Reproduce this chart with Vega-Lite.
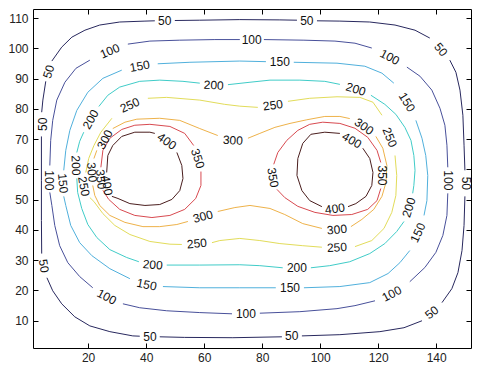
{
"$schema": "https://vega.github.io/schema/vega-lite/v6.json",
"width": 438, "height": 339,
"autosize": {"type": "none"},
"padding": {"left": 33, "top": 9, "right": 6, "bottom": 19},
"background": "white",
"config": {"view": {"stroke": "#000", "strokeWidth": 1}, "font": "Liberation Sans"},
"datasets": {
"lines": [
{"s":"50j","l":50,"x":4.0,"y":32.2},{"s":"50j","l":50,"x":3.9,"y":43.1},{"s":"50j","l":50,"x":3.9,"y":56.4},{"s":"50j","l":50,"x":3.9,"y":70.9},
{"s":"50a","l":50,"x":4.0,"y":78.9},{"s":"50a","l":50,"x":4.4,"y":82.9},{"s":"50a","l":50,"x":5.4,"y":89.1},
{"s":"50b","l":50,"x":7.5,"y":95.8},{"s":"50b","l":50,"x":10.9,"y":100.4},{"s":"50b","l":50,"x":14.4,"y":103.7},{"s":"50b","l":50,"x":18.9,"y":106.0},{"s":"50b","l":50,"x":24.0,"y":107.7},{"s":"50b","l":50,"x":30.9,"y":108.7},{"s":"50b","l":50,"x":39.6,"y":109.0},{"s":"50b","l":50,"x":43.0,"y":109.1},
{"s":"50c","l":50,"x":49.9,"y":109.2},{"s":"50c","l":50,"x":58.5,"y":109.3},{"s":"50c","l":50,"x":72.3,"y":109.5},{"s":"50c","l":50,"x":86.1,"y":109.4},{"s":"50c","l":50,"x":92.0,"y":109.3},
{"s":"50d","l":50,"x":98.9,"y":109.1},{"s":"50d","l":50,"x":106.8,"y":109.0},{"s":"50d","l":50,"x":117.1,"y":108.7},{"s":"50d","l":50,"x":125.8,"y":107.7},{"s":"50d","l":50,"x":132.7,"y":106.0},{"s":"50d","l":50,"x":137.8,"y":103.4},
{"s":"50e","l":50,"x":144.7,"y":96.1},{"s":"50e","l":50,"x":146.8,"y":92.1},{"s":"50e","l":50,"x":148.2,"y":86.2},{"s":"50e","l":50,"x":149.2,"y":77.9},{"s":"50e","l":50,"x":149.6,"y":68.0},{"s":"50e","l":50,"x":149.9,"y":59.7},
{"s":"50f","l":50,"x":149.9,"y":51.1},{"s":"50f","l":50,"x":149.6,"y":41.5},{"s":"50f","l":50,"x":148.9,"y":33.2},{"s":"50f","l":50,"x":147.5,"y":25.9},{"s":"50f","l":50,"x":145.4,"y":20.6},{"s":"50f","l":50,"x":142.0,"y":16.0},
{"s":"50g","l":50,"x":135.1,"y":10.0},{"s":"50g","l":50,"x":128.9,"y":7.7},{"s":"50g","l":50,"x":120.6,"y":6.4},{"s":"50g","l":50,"x":106.8,"y":5.4},{"s":"50g","l":50,"x":93.7,"y":5.0},
{"s":"50h","l":50,"x":86.8,"y":4.7},{"s":"50h","l":50,"x":69.9,"y":4.4},{"s":"50h","l":50,"x":53.3,"y":4.5},{"s":"50h","l":50,"x":44.7,"y":4.7},
{"s":"50i","l":50,"x":37.8,"y":4.9},{"s":"50i","l":50,"x":35.4,"y":5.0},{"s":"50i","l":50,"x":27.5,"y":6.4},{"s":"50i","l":50,"x":20.6,"y":8.3},{"s":"50i","l":50,"x":15.4,"y":11.3},{"s":"50i","l":50,"x":10.9,"y":15.6},{"s":"50i","l":50,"x":7.8,"y":19.9},{"s":"50i","l":50,"x":5.8,"y":24.2},
{"s":"100a","l":100,"x":6.8,"y":61.3},{"s":"100a","l":100,"x":7.1,"y":69.6},{"s":"100a","l":100,"x":7.8,"y":76.2},{"s":"100a","l":100,"x":9.2,"y":82.9},{"s":"100a","l":100,"x":12.0,"y":88.8},{"s":"100a","l":100,"x":15.8,"y":93.4},{"s":"100a","l":100,"x":20.6,"y":96.1},
{"s":"100b","l":100,"x":33.7,"y":101.4},{"s":"100b","l":100,"x":41.3,"y":102.4},{"s":"100b","l":100,"x":51.6,"y":102.7},{"s":"100b","l":100,"x":63.7,"y":102.9},{"s":"100b","l":100,"x":72.3,"y":102.9},
{"s":"100c","l":100,"x":80.6,"y":102.9},{"s":"100c","l":100,"x":94.4,"y":102.7},{"s":"100c","l":100,"x":105.1,"y":102.4},{"s":"100c","l":100,"x":112.0,"y":101.7},{"s":"100c","l":100,"x":117.8,"y":100.1},
{"s":"100d","l":100,"x":129.9,"y":93.8},{"s":"100d","l":100,"x":134.4,"y":90.8},{"s":"100d","l":100,"x":138.5,"y":86.2},{"s":"100d","l":100,"x":141.3,"y":80.2},{"s":"100d","l":100,"x":143.0,"y":74.6},{"s":"100d","l":100,"x":143.7,"y":68.0},{"s":"100d","l":100,"x":144.0,"y":60.7},
{"s":"100e","l":100,"x":144.0,"y":52.1},{"s":"100e","l":100,"x":143.7,"y":44.8},{"s":"100e","l":100,"x":142.3,"y":38.2},{"s":"100e","l":100,"x":139.9,"y":32.6},{"s":"100e","l":100,"x":136.1,"y":27.6},{"s":"100e","l":100,"x":130.9,"y":22.9},
{"s":"100f","l":100,"x":118.9,"y":16.6},{"s":"100f","l":100,"x":112.0,"y":15.0},{"s":"100f","l":100,"x":105.8,"y":14.0},{"s":"100f","l":100,"x":93.0,"y":13.0},{"s":"100f","l":100,"x":79.2,"y":12.5},
{"s":"100g","l":100,"x":69.6,"y":12.3},{"s":"100g","l":100,"x":58.5,"y":12.7},{"s":"100g","l":100,"x":47.1,"y":13.3},{"s":"100g","l":100,"x":37.8,"y":14.3},{"s":"100g","l":100,"x":32.0,"y":15.6},
{"s":"100h","l":100,"x":21.6,"y":20.9},{"s":"100h","l":100,"x":17.1,"y":24.6},{"s":"100h","l":100,"x":13.0,"y":29.2},{"s":"100h","l":100,"x":10.2,"y":34.8},{"s":"100h","l":100,"x":8.5,"y":41.5},{"s":"100h","l":100,"x":7.5,"y":48.1},{"s":"100h","l":100,"x":6.8,"y":52.4},
{"s":"150a","l":150,"x":11.6,"y":59.7},{"s":"150a","l":150,"x":12.3,"y":66.3},{"s":"150a","l":150,"x":13.7,"y":72.9},{"s":"150a","l":150,"x":16.1,"y":79.5},{"s":"150a","l":150,"x":19.9,"y":85.5},{"s":"150a","l":150,"x":25.1,"y":90.1},{"s":"150a","l":150,"x":31.6,"y":92.8},
{"s":"150b","l":150,"x":44.0,"y":94.9},{"s":"150b","l":150,"x":55.1,"y":95.4},{"s":"150b","l":150,"x":72.3,"y":95.8},{"s":"150b","l":150,"x":81.3,"y":95.6},
{"s":"150c","l":150,"x":90.9,"y":95.4},{"s":"150c","l":150,"x":105.8,"y":95.1},{"s":"150c","l":150,"x":115.4,"y":94.1},{"s":"150c","l":150,"x":121.3,"y":91.8},{"s":"150c","l":150,"x":125.4,"y":88.5},
{"s":"150d","l":150,"x":133.0,"y":76.2},{"s":"150d","l":150,"x":135.1,"y":70.3},{"s":"150d","l":150,"x":136.4,"y":64.6},{"s":"150d","l":150,"x":137.1,"y":58.0},{"s":"150d","l":150,"x":136.8,"y":49.7},{"s":"150d","l":150,"x":135.8,"y":44.8},
{"s":"150e","l":150,"x":130.9,"y":33.2},{"s":"150e","l":150,"x":127.5,"y":29.2},{"s":"150e","l":150,"x":123.4,"y":25.6},{"s":"150e","l":150,"x":117.1,"y":22.6},{"s":"150e","l":150,"x":106.8,"y":21.3},{"s":"150e","l":150,"x":94.4,"y":20.9},
{"s":"150f","l":150,"x":84.7,"y":20.9},{"s":"150f","l":150,"x":72.3,"y":20.9},{"s":"150f","l":150,"x":58.5,"y":20.9},{"s":"150f","l":150,"x":45.8,"y":21.3},
{"s":"150g","l":150,"x":34.4,"y":23.9},{"s":"150g","l":150,"x":27.5,"y":27.2},{"s":"150g","l":150,"x":21.3,"y":31.5},{"s":"150g","l":150,"x":17.1,"y":35.8},{"s":"150g","l":150,"x":14.0,"y":41.5},{"s":"150g","l":150,"x":12.3,"y":48.1},{"s":"150g","l":150,"x":11.6,"y":51.1},
{"s":"200a","l":200,"x":16.1,"y":65.6},{"s":"200a","l":200,"x":17.1,"y":69.3},{"s":"200a","l":200,"x":18.5,"y":72.3},
{"s":"200b","l":200,"x":23.7,"y":80.8},{"s":"200b","l":200,"x":26.8,"y":84.5},{"s":"200b","l":200,"x":30.9,"y":87.2},{"s":"200b","l":200,"x":37.8,"y":89.1},{"s":"200b","l":200,"x":44.7,"y":89.5},{"s":"200b","l":200,"x":52.7,"y":89.1},{"s":"200b","l":200,"x":58.5,"y":88.5},
{"s":"200c","l":200,"x":68.2,"y":88.0},{"s":"200c","l":200,"x":75.8,"y":88.8},{"s":"200c","l":200,"x":82.7,"y":89.5},{"s":"200c","l":200,"x":93.0,"y":89.5},{"s":"200c","l":200,"x":101.6,"y":89.1},{"s":"200c","l":200,"x":106.8,"y":88.1},
{"s":"200d","l":200,"x":117.5,"y":84.5},{"s":"200d","l":200,"x":122.3,"y":81.5},{"s":"200d","l":200,"x":126.1,"y":78.2},{"s":"200d","l":200,"x":129.2,"y":73.9},{"s":"200d","l":200,"x":131.3,"y":69.6},{"s":"200d","l":200,"x":132.3,"y":64.6},{"s":"200d","l":200,"x":132.7,"y":59.7},{"s":"200d","l":200,"x":132.3,"y":54.7},{"s":"200d","l":200,"x":131.9,"y":52.1},
{"s":"200e","l":200,"x":128.9,"y":42.8},{"s":"200e","l":200,"x":126.4,"y":39.5},{"s":"200e","l":200,"x":122.3,"y":35.5},{"s":"200e","l":200,"x":117.1,"y":32.2},{"s":"200e","l":200,"x":110.2,"y":29.5},{"s":"200e","l":200,"x":103.3,"y":28.2},{"s":"200e","l":200,"x":96.8,"y":27.5},
{"s":"200f","l":200,"x":87.1,"y":27.5},{"s":"200f","l":200,"x":79.2,"y":28.2},{"s":"200f","l":200,"x":72.3,"y":28.5},{"s":"200f","l":200,"x":58.5,"y":28.4},{"s":"200f","l":200,"x":47.1,"y":28.4},
{"s":"200g","l":200,"x":37.5,"y":29.5},{"s":"200g","l":200,"x":33.3,"y":30.9},{"s":"200g","l":200,"x":27.5,"y":33.5},{"s":"200g","l":200,"x":23.0,"y":37.5},{"s":"200g","l":200,"x":19.9,"y":41.8},{"s":"200g","l":200,"x":17.8,"y":47.1},{"s":"200g","l":200,"x":16.4,"y":52.4},{"s":"200g","l":200,"x":16.1,"y":57.0},
{"s":"250a","l":250,"x":19.2,"y":59.0},{"s":"250a","l":250,"x":20.2,"y":63.6},{"s":"250a","l":250,"x":22.0,"y":67.9},{"s":"250a","l":250,"x":24.4,"y":72.3},{"s":"250a","l":250,"x":28.2,"y":76.9},
{"s":"250b","l":250,"x":40.6,"y":83.5},{"s":"250b","l":250,"x":47.1,"y":83.8},{"s":"250b","l":250,"x":58.5,"y":82.9},{"s":"250b","l":250,"x":67.1,"y":81.5},{"s":"250b","l":250,"x":72.3,"y":80.9},{"s":"250b","l":250,"x":78.5,"y":80.5},
{"s":"250c","l":250,"x":88.9,"y":82.5},{"s":"250c","l":250,"x":96.4,"y":83.5},{"s":"250c","l":250,"x":105.8,"y":84.0},{"s":"250c","l":250,"x":113.7,"y":83.8},{"s":"250c","l":250,"x":118.2,"y":82.2},{"s":"250c","l":250,"x":121.3,"y":77.9},
{"s":"250d","l":250,"x":125.8,"y":64.6},{"s":"250d","l":250,"x":126.4,"y":58.0},{"s":"250d","l":250,"x":126.1,"y":51.4},{"s":"250d","l":250,"x":124.7,"y":45.8},{"s":"250d","l":250,"x":122.0,"y":40.5},{"s":"250d","l":250,"x":117.8,"y":36.5},{"s":"250d","l":250,"x":112.0,"y":34.5},
{"s":"250e","l":250,"x":100.6,"y":34.3},{"s":"250e","l":250,"x":94.0,"y":34.8},{"s":"250e","l":250,"x":86.1,"y":35.5},{"s":"250e","l":250,"x":79.2,"y":36.5},{"s":"250e","l":250,"x":72.3,"y":37.2},{"s":"250e","l":250,"x":65.4,"y":36.5},{"s":"250e","l":250,"x":62.7,"y":35.8},
{"s":"250f","l":250,"x":52.3,"y":35.2},{"s":"250f","l":250,"x":48.2,"y":35.3},{"s":"250f","l":250,"x":41.3,"y":36.2},{"s":"250f","l":250,"x":34.4,"y":38.5},{"s":"250f","l":250,"x":29.2,"y":41.5},{"s":"250f","l":250,"x":25.1,"y":45.4},{"s":"250f","l":250,"x":22.0,"y":49.4},{"s":"250f","l":250,"x":20.6,"y":50.7},
{"s":"300a","l":300,"x":22.0,"y":63.6},{"s":"300a","l":300,"x":23.0,"y":66.3},
{"s":"300b","l":300,"x":28.5,"y":73.5},{"s":"300b","l":300,"x":32.7,"y":75.6},{"s":"300b","l":300,"x":36.8,"y":76.6},{"s":"300b","l":300,"x":44.7,"y":76.9},{"s":"300b","l":300,"x":51.6,"y":76.2},{"s":"300b","l":300,"x":58.5,"y":73.5},{"s":"300b","l":300,"x":64.7,"y":71.2},
{"s":"300c","l":300,"x":75.1,"y":70.3},{"s":"300c","l":300,"x":79.2,"y":71.9},{"s":"300c","l":300,"x":84.4,"y":73.9},{"s":"300c","l":300,"x":89.6,"y":75.2},{"s":"300c","l":300,"x":95.4,"y":76.4},{"s":"300c","l":300,"x":101.6,"y":77.5},{"s":"300c","l":300,"x":106.8,"y":77.5},{"s":"300c","l":300,"x":110.2,"y":76.8},
{"s":"300d","l":300,"x":119.2,"y":70.9},{"s":"300d","l":300,"x":121.6,"y":67.0},{"s":"300d","l":300,"x":123.0,"y":61.3},{"s":"300d","l":300,"x":122.7,"y":55.7},{"s":"300d","l":300,"x":121.3,"y":51.1},{"s":"300d","l":300,"x":118.5,"y":46.8},{"s":"300d","l":300,"x":114.4,"y":43.5},{"s":"300d","l":300,"x":110.6,"y":41.1},
{"s":"300e","l":300,"x":100.6,"y":40.5},{"s":"300e","l":300,"x":94.0,"y":42.1},{"s":"300e","l":300,"x":87.8,"y":45.1},{"s":"300e","l":300,"x":82.7,"y":47.1},{"s":"300e","l":300,"x":75.8,"y":48.1},{"s":"300e","l":300,"x":70.6,"y":47.4},{"s":"300e","l":300,"x":64.7,"y":46.1},
{"s":"300f","l":300,"x":54.4,"y":42.8},{"s":"300f","l":300,"x":50.6,"y":41.8},{"s":"300f","l":300,"x":44.7,"y":41.1},{"s":"300f","l":300,"x":38.9,"y":41.1},{"s":"300f","l":300,"x":32.7,"y":42.5},{"s":"300f","l":300,"x":27.5,"y":44.8},{"s":"300f","l":300,"x":24.0,"y":48.1},{"s":"300f","l":300,"x":22.3,"y":51.4},{"s":"300f","l":300,"x":21.6,"y":54.7},
{"s":"350La","l":350,"x":24.4,"y":60.7},{"s":"350La","l":350,"x":25.1,"y":66.3},{"s":"350La","l":350,"x":27.5,"y":70.3},{"s":"350La","l":350,"x":31.6,"y":73.2},{"s":"350La","l":350,"x":36.1,"y":74.6},{"s":"350La","l":350,"x":41.3,"y":74.9},{"s":"350La","l":350,"x":48.2,"y":74.2},{"s":"350La","l":350,"x":53.3,"y":71.9},{"s":"350La","l":350,"x":56.4,"y":67.9},
{"s":"350Lb","l":350,"x":58.9,"y":59.3},{"s":"350Lb","l":350,"x":58.9,"y":54.7},{"s":"350Lb","l":350,"x":57.1,"y":50.4},{"s":"350Lb","l":350,"x":53.3,"y":46.8},{"s":"350Lb","l":350,"x":48.2,"y":44.8},{"s":"350Lb","l":350,"x":42.0,"y":44.1},{"s":"350Lb","l":350,"x":36.1,"y":44.8},{"s":"350Lb","l":350,"x":30.9,"y":46.8},{"s":"350Lb","l":350,"x":27.1,"y":50.1},{"s":"350Lb","l":350,"x":25.1,"y":53.1},
{"s":"350Ra","l":350,"x":84.0,"y":61.7},{"s":"350Ra","l":350,"x":85.4,"y":65.6},{"s":"350Ra","l":350,"x":88.5,"y":69.6},{"s":"350Ra","l":350,"x":92.3,"y":72.9},{"s":"350Ra","l":350,"x":96.4,"y":74.9},{"s":"350Ra","l":350,"x":100.9,"y":75.6},{"s":"350Ra","l":350,"x":106.8,"y":75.2},{"s":"350Ra","l":350,"x":112.0,"y":73.6},{"s":"350Ra","l":350,"x":116.4,"y":70.6},{"s":"350Ra","l":350,"x":119.6,"y":66.3},{"s":"350Ra","l":350,"x":120.9,"y":62.3},
{"s":"350Rb","l":350,"x":120.9,"y":53.7},{"s":"350Rb","l":350,"x":119.6,"y":49.7},{"s":"350Rb","l":350,"x":116.4,"y":46.8},{"s":"350Rb","l":350,"x":110.9,"y":45.1},{"s":"350Rb","l":350,"x":104.4,"y":44.8},{"s":"350Rb","l":350,"x":98.2,"y":45.8},{"s":"350Rb","l":350,"x":92.3,"y":47.8},{"s":"350Rb","l":350,"x":87.8,"y":50.7},{"s":"350Rb","l":350,"x":85.1,"y":53.4},
{"s":"400La","l":400,"x":26.4,"y":59.0},{"s":"400La","l":400,"x":26.8,"y":64.6},{"s":"400La","l":400,"x":28.5,"y":67.9},{"s":"400La","l":400,"x":31.6,"y":70.9},{"s":"400La","l":400,"x":36.1,"y":72.3},{"s":"400La","l":400,"x":41.3,"y":72.3},{"s":"400La","l":400,"x":43.0,"y":71.9},
{"s":"400Lb","l":400,"x":50.6,"y":65.6},{"s":"400Lb","l":400,"x":52.3,"y":61.3},{"s":"400Lb","l":400,"x":52.7,"y":57.0},{"s":"400Lb","l":400,"x":51.6,"y":53.0},{"s":"400Lb","l":400,"x":48.9,"y":50.1},{"s":"400Lb","l":400,"x":44.7,"y":48.4},{"s":"400Lb","l":400,"x":39.6,"y":48.1},{"s":"400Lb","l":400,"x":34.4,"y":48.7},{"s":"400Lb","l":400,"x":30.3,"y":50.4},{"s":"400Lb","l":400,"x":28.2,"y":51.1},
{"s":"400Ra","l":400,"x":100.6,"y":47.7},{"s":"400Ra","l":400,"x":96.4,"y":49.7},{"s":"400Ra","l":400,"x":93.7,"y":53.0},{"s":"400Ra","l":400,"x":92.0,"y":58.0},{"s":"400Ra","l":400,"x":92.3,"y":63.6},{"s":"400Ra","l":400,"x":94.0,"y":68.6},{"s":"400Ra","l":400,"x":96.8,"y":71.6},{"s":"400Ra","l":400,"x":101.6,"y":72.3},{"s":"400Ra","l":400,"x":106.8,"y":71.9},
{"s":"400Rb","l":400,"x":114.7,"y":67.0},{"s":"400Rb","l":400,"x":117.1,"y":63.6},{"s":"400Rb","l":400,"x":118.2,"y":59.0},{"s":"400Rb","l":400,"x":117.8,"y":54.7},{"s":"400Rb","l":400,"x":115.8,"y":51.1},{"s":"400Rb","l":400,"x":112.3,"y":48.7},{"s":"400Rb","l":400,"x":109.6,"y":47.7}
],
"labels": [
{"t":"50","x":4.4,"y":74.9,"a":-90},{"t":"50","x":6.4,"y":92.3,"a":-72},{"t":"50","x":46.4,"y":109.2,"a":0},{"t":"50","x":95.4,"y":109.2,"a":0},{"t":"50","x":141.6,"y":99.6,"a":50},{"t":"50","x":150.2,"y":55.4,"a":90},{"t":"50","x":138.5,"y":12.7,"a":-38},{"t":"50","x":90.2,"y":4.9,"a":0},{"t":"50","x":41.3,"y":4.7,"a":0},{"t":"50","x":4.7,"y":28.1,"a":80},
{"t":"100","x":27.5,"y":99.1,"a":-23},{"t":"100","x":76.4,"y":102.7,"a":0},{"t":"100","x":124.0,"y":97.1,"a":28},{"t":"100","x":144.0,"y":56.4,"a":90},{"t":"100","x":124.7,"y":18.9,"a":-28},{"t":"100","x":74.4,"y":12.3,"a":0},{"t":"100","x":26.4,"y":17.9,"a":28},{"t":"100","x":6.4,"y":56.4,"a":90},
{"t":"150","x":37.8,"y":94.1,"a":-10},{"t":"150","x":86.1,"y":95.4,"a":0},{"t":"150","x":129.9,"y":82.2,"a":58},{"t":"150","x":133.7,"y":39.1,"a":-65},{"t":"150","x":89.6,"y":20.9,"a":0},{"t":"150","x":40.2,"y":21.9,"a":12},{"t":"150","x":11.3,"y":55.4,"a":85},
{"t":"200","x":15.8,"y":61.3,"a":88},{"t":"200","x":20.9,"y":76.5,"a":-60},{"t":"200","x":63.3,"y":87.8,"a":3},{"t":"200","x":112.3,"y":86.5,"a":18},{"t":"200","x":130.6,"y":47.4,"a":-72},{"t":"200","x":92.0,"y":27.5,"a":0},{"t":"200","x":42.3,"y":28.5,"a":5},
{"t":"250","x":18.5,"y":54.4,"a":80},{"t":"250","x":34.4,"y":81.2,"a":-25},{"t":"250","x":83.7,"y":81.2,"a":-8},{"t":"250","x":124.0,"y":70.6,"a":68},{"t":"250","x":105.8,"y":34.2,"a":-3},{"t":"250","x":57.5,"y":35.5,"a":-5},
{"t":"300","x":21.3,"y":59.0,"a":85},{"t":"300","x":25.8,"y":69.9,"a":-62},{"t":"300","x":69.9,"y":69.6,"a":3},{"t":"300","x":115.1,"y":74.2,"a":35},{"t":"300","x":105.8,"y":40.1,"a":-5},{"t":"300","x":59.6,"y":44.4,"a":-15},
{"t":"350","x":57.8,"y":63.6,"a":72},{"t":"350","x":24.4,"y":56.7,"a":85},{"t":"350","x":121.3,"y":58.0,"a":90},{"t":"350","x":83.7,"y":57.3,"a":80},
{"t":"400","x":47.1,"y":69.3,"a":35},{"t":"400","x":26.5,"y":54.7,"a":80},{"t":"400","x":110.9,"y":69.6,"a":30},{"t":"400","x":105.1,"y":47.0,"a":-8}
]
},
"layer": [
{"data": {"name": "lines"},
 "mark": {"type": "line", "strokeWidth": 1},
 "encoding": {
  "x": {"field": "x", "type": "quantitative", "scale": {"domain": [1, 152], "nice": false, "zero": false},
        "axis": {"orient": "bottom", "values": [20,40,60,80,100,120,140], "title": null, "grid": false, "domain": false, "offset": -5, "tickSize": 5, "tickColor": "#000", "labelPadding": 4, "labelFont": "Liberation Sans", "labelFontSize": 12, "labelColor": "#222"}},
  "y": {"field": "y", "type": "quantitative", "scale": {"domain": [1, 113], "nice": false, "zero": false},
        "axis": {"orient": "left", "values": [10,20,30,40,50,60,70,80,90,100,110], "title": null, "grid": false, "domain": false, "offset": -5, "tickSize": 5, "tickColor": "#000", "labelPadding": 5, "labelFont": "Liberation Sans", "labelFontSize": 12, "labelColor": "#222"}},
  "color": {"field": "l", "type": "ordinal", "scale": {"domain": [50,100,150,200,250,300,350,400], "range": ["#28285e","#48509a","#50b0dc","#40ccc8","#e2dc5a","#eeb24a","#d84a50","#4a1e1e"]}, "legend": null},
  "detail": {"field": "s"},
  "order": {"value": null}
 }},
{"data": {"name": "labels"},
 "mark": {"type": "text", "font": "Liberation Sans", "fontSize": 12, "color": "#111", "align": "center", "baseline": "middle"},
 "encoding": {
  "x": {"field": "x", "type": "quantitative", "scale": {"domain": [1, 152], "nice": false, "zero": false},
        "axis": {"orient": "top", "values": [20,40,60,80,100,120,140], "title": null, "grid": false, "domain": false, "labels": false, "offset": -5, "tickSize": 5, "tickColor": "#000"}},
  "y": {"field": "y", "type": "quantitative", "scale": {"domain": [1, 113], "nice": false, "zero": false},
        "axis": {"orient": "right", "values": [10,20,30,40,50,60,70,80,90,100,110], "title": null, "grid": false, "domain": false, "labels": false, "offset": -5, "tickSize": 5, "tickColor": "#000"}},
  "text": {"field": "t"},
  "angle": {"field": "a", "type": "quantitative", "scale": null}
 }}
],
"resolve": {"axis": {"x": "independent", "y": "independent"}}
}
